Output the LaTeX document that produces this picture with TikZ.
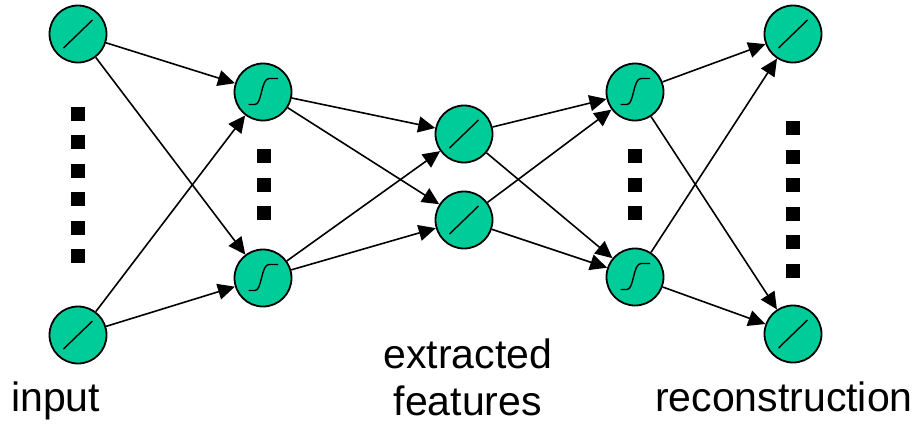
\documentclass[tikz,border=0pt]{standalone}
\usepackage{fontspec}
\setmainfont{Liberation Sans}
\usetikzlibrary{arrows.meta}
\definecolor{nodegreen}{RGB}{0,204,153}
\tikzset{
  unit/.style={circle, draw=black, line width=1.8pt, fill=nodegreen, minimum size=57pt, inner sep=0pt},
  linu/.style={unit, path picture={
      \begin{scope}[shift={(path picture bounding box.center)}]
        \draw[line width=1.4pt] (-14.5pt,-14pt) -- (14.5pt,14pt);
      \end{scope}}},
  sigu/.style={unit, path picture={
      \begin{scope}[shift={(path picture bounding box.center)}]
        \draw[line width=1.4pt] (-14.5pt,-12.5pt) -- (-8pt,-12.5pt) .. controls (-1pt,-12.5pt) and (-2pt,13.5pt) .. (6pt,13.5pt) -- (15pt,13.5pt);
      \end{scope}}},
  dotsq/.style={rectangle, fill=black, minimum size=14pt, inner sep=0pt},
  conn/.style={line width=1.6pt, -{Triangle[length=17pt,width=16pt]}},
  lbl/.style={font=\fontsize{41}{47}\selectfont, inner sep=0pt}
}
\begin{document}
\begin{tikzpicture}[x=1pt,y=-1pt]
\useasboundingbox (0,0) rectangle (922,426);
% units
\node[linu] (in1) at (78,34) {};
\node[linu] (in2) at (78,335) {};
\node[sigu] (h1a) at (263,92) {};
\node[sigu] (h1b) at (263,278) {};
\node[linu] (m1) at (464,134) {};
\node[linu] (m2) at (464,220) {};
\node[sigu] (h2a) at (635,92) {};
\node[sigu] (h2b) at (635,277) {};
\node[linu] (o1) at (793,34) {};
\node[linu] (o2) at (793,334) {};
% dots
\foreach \y [count=\i] in {113.5,142,170.5,199,227.5,256}
  \node[dotsq] (din\i) at (78,\y) {};
\foreach \y [count=\i] in {156,184.5,213}
  \node[dotsq] (dha\i) at (264,\y) {};
\foreach \y [count=\i] in {156,184.5,213}
  \node[dotsq] (dhb\i) at (635,\y) {};
\foreach \y [count=\i] in {128,156.5,185,213.5,242,270.5}
  \node[dotsq] (dout\i) at (793,\y) {};
% connectors
\foreach \a in {in1,in2} \foreach \b in {h1a,h1b} \draw[conn] (\a) -- (\b);
\foreach \a in {h1a,h1b} \foreach \b in {m1,m2} \draw[conn] (\a) -- (\b);
\foreach \a in {m1,m2} \foreach \b in {h2a,h2b} \draw[conn] (\a) -- (\b);
\foreach \a in {h2a,h2b} \foreach \b in {o1,o2} \draw[conn] (\a) -- (\b);
% labels
\node[lbl, anchor=base west] (linput) at (11,411.7) {input};
\node[lbl, anchor=base, align=center] (lfeat) at (467.7,415) {extracted\\features};
\node[lbl, anchor=base west] (lrec) at (655,411.7) {reconstruction};
\end{tikzpicture}
\end{document}
